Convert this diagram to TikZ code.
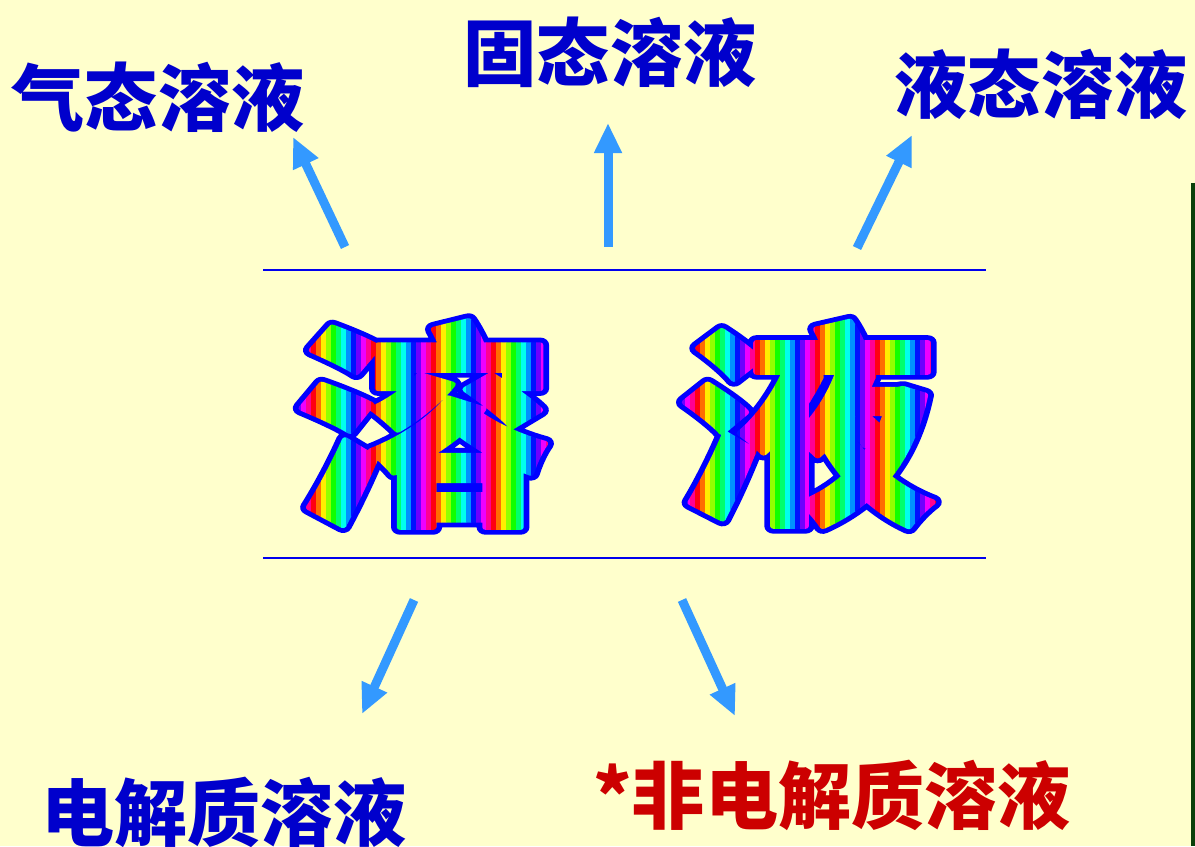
\documentclass[tikz,border=0pt]{standalone}
\usepackage{fontspec}
\usetikzlibrary{arrows.meta,calc}
\newfontfamily\cjk{Noto Sans CJK SC}
\newfontfamily\cjkout{Noto Sans CJK SC}[BoldFeatures={FakeBold=7}]
\newfontfamily\cjkfill{Noto Sans CJK SC}[BoldFeatures={FakeBold=2.5}]
\definecolor{bg}{HTML}{FFFFCC}
\definecolor{lblue}{HTML}{0000CC}
\definecolor{lred}{HTML}{CC0000}
\definecolor{arr}{HTML}{3399FF}
\definecolor{rule}{HTML}{0000EE}
\definecolor{edge}{HTML}{0A400A}
\definecolor{outl}{HTML}{0000FF}
\tikzset{
  lbl/.style={font=\cjk\bfseries\fontsize{20.8}{25}\selectfont, inner sep=0pt},
  blulbl/.style={lbl, text=lblue},
  redlbl/.style={lbl, text=lred},
  arrw/.style={draw=arr, line width=0.09cm, -{Triangle[length=0.3cm,width=0.26cm]}},
  bigout/.style={font=\cjkout\bfseries\fontsize{61}{70}\selectfont, inner sep=0pt, text=outl, line join=round},
  bigfill/.style={font=\cjkfill\bfseries\fontsize{61}{70}\selectfont, inner sep=0pt, line join=round},
}
\begin{document}
\begin{tikzpicture}[x=0.01cm,y=-0.01cm]
\fill[bg] (0,0) rectangle (1195,846);
\useasboundingbox (0,0) rectangle (1195,846);
% labels
\node[blulbl] (gas) at (158,97) {气态溶液};
\node[blulbl] (solid) at (610,52) {固态溶液};
\node[blulbl] (liq) at (1041,84) {液态溶液};
\node[blulbl] (ele) at (224,812) {电解质溶液};
\node[redlbl] (non) at (832,795) {*非电解质溶液};
% rules
\coordinate (t1) at (263,270); \coordinate (t2) at (986,270);
\coordinate (b1) at (263,558); \coordinate (b2) at (986,558);
\draw[rule, line width=0.022cm] (t1) -- (t2);
\draw[rule, line width=0.022cm] (b1) -- (b2);
% edge line
\coordinate (g1) at (1193,183); \coordinate (g2) at (1193,846);
\draw[edge, line width=0.035cm] (g1) -- (g2);
% arrows
\coordinate (a1s) at (345,247); \coordinate (a1e) at (293,137);
\coordinate (a2s) at (608,247); \coordinate (a2e) at (608,123);
\coordinate (a3s) at (857,248); \coordinate (a3e) at (912,135);
\coordinate (a4s) at (414,600); \coordinate (a4e) at (362,714);
\coordinate (a5s) at (682,600); \coordinate (a5e) at (735,716);
\draw[arrw] (a1s) -- (a1e);
\draw[arrw] (a2s) -- (a2e);
\draw[arrw] (a3s) -- (a3e);
\draw[arrw] (a4s) -- (a4e);
\draw[arrw] (a5s) -- (a5e);
% big rainbow characters: blue outline
\coordinate (c1) at (424,424);
\coordinate (c2) at (808,424);
\node[bigout] (rong) at (c1) {\scalebox{1.19}[1]{溶}};
\node[bigout] (ye) at (c2) {\scalebox{1.19}[1]{液}};
% rainbow stripes
\foreach \i in {0,...,51}{
  \pgfmathtruncatemacro{\h}{mod(\i*30+266,360)}
  \pgfmathsetmacro{\xa}{296+5*\i}
  \pgfmathsetmacro{\xb}{680+5*\i}
  \convertcolorspec{Hsb}{\h,1,1}{rgb}\rgbval
  \definecolor{st}{rgb}{\rgbval}
  \begin{scope}
    \clip (\xa,300) rectangle ({\xa+5.4},545);
    \node[bigfill, text=st] at (c1) {\scalebox{1.19}[1]{溶}};
  \end{scope}
  \begin{scope}
    \clip (\xb,300) rectangle ({\xb+5.4},545);
    \node[bigfill, text=st] at (c2) {\scalebox{1.19}[1]{液}};
  \end{scope}
}
\end{tikzpicture}
\end{document}
